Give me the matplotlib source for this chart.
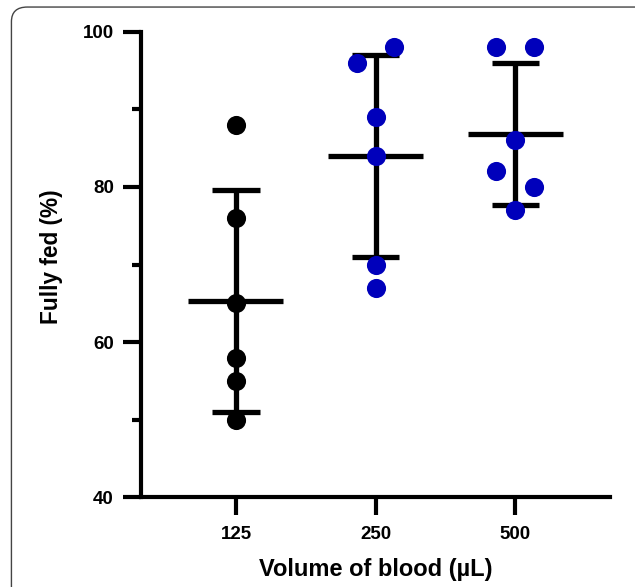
import numpy as np
import matplotlib.pyplot as plt
from matplotlib.patches import FancyBboxPatch

plt.rcParams['font.family'] = ['Liberation Sans', 'DejaVu Sans']
plt.rcParams['font.weight'] = 'bold'

groups = ['125', '250', '500']
fed_125 = [88, 76, 65, 58, 55, 50]
fed_250 = [98, 96, 89, 84, 70, 67]
fed_500 = [98, 98, 86, 82, 80, 77]
# horizontal spread of dots within each column
jitter_125 = [0, 0, 0, 0, 0, 0]
jitter_250 = [0.135, -0.135, 0, 0, 0, 0]
jitter_500 = [-0.135, 0.135, 0, -0.135, 0.135, 0]
colors = ['#000000', '#0000BB', '#0000BB']

yticks = [40, 60, 80, 100]
yminor = [50, 70, 90]

fig = plt.figure(figsize=(6.35, 5.87), dpi=100)
ax = fig.add_axes([0.222, 0.1533, 0.739, 0.7922])

# frame around the whole figure
frame = FancyBboxPatch((0.018, -0.05), 1.05, 1.038,
                       boxstyle='round,pad=0,rounding_size=0.025',
                       transform=fig.transFigure, fill=False,
                       edgecolor='#444444', linewidth=1.0)
fig.patches.append(frame)

data = [fed_125, fed_250, fed_500]
jit = [jitter_125, jitter_250, jitter_500]
for i, (vals, jj, c) in enumerate(zip(data, jit, colors)):
    vals = np.array(vals, dtype=float)
    m = vals.mean()
    sd = vals.std(ddof=1)
    ax.plot([i, i], [m - sd, m + sd], color='black', lw=3.8, solid_capstyle='butt', zorder=2)
    ax.plot([i - 0.17, i + 0.17], [m + sd, m + sd], color='black', lw=3.8, solid_capstyle='butt', zorder=2)
    ax.plot([i - 0.17, i + 0.17], [m - sd, m - sd], color='black', lw=3.8, solid_capstyle='butt', zorder=2)
    ax.plot([i - 0.34, i + 0.34], [m, m], color='black', lw=3.8, solid_capstyle='butt', zorder=2)
    ax.scatter(np.array(jj) + i, vals, s=190, color=c, zorder=3, linewidths=0)

ax.set_xlim(-0.68, 2.68)
ax.set_ylim(40, 100)
ax.set_xticks(range(len(groups)))
ax.set_xticklabels(groups)
ax.set_yticks(yticks)
ax.set_yticks(yminor, minor=True)

for s in ['top', 'right']:
    ax.spines[s].set_visible(False)
for s in ['left', 'bottom']:
    ax.spines[s].set_linewidth(3)

ax.tick_params(axis='both', which='major', length=13, width=3, labelsize=13.5, pad=6.5)
ax.tick_params(axis='y', which='minor', length=6.5, width=3)
ax.tick_params(axis='x', which='major', pad=8)

ax.set_xlabel('Volume of blood (µL)', fontsize=17, fontweight='bold', labelpad=11)
ax.set_ylabel('Fully fed (%)', fontsize=16.3, fontweight='bold')
ax.yaxis.set_label_coords(-0.167, 0.517)

fig.savefig('out.png', dpi=100)
